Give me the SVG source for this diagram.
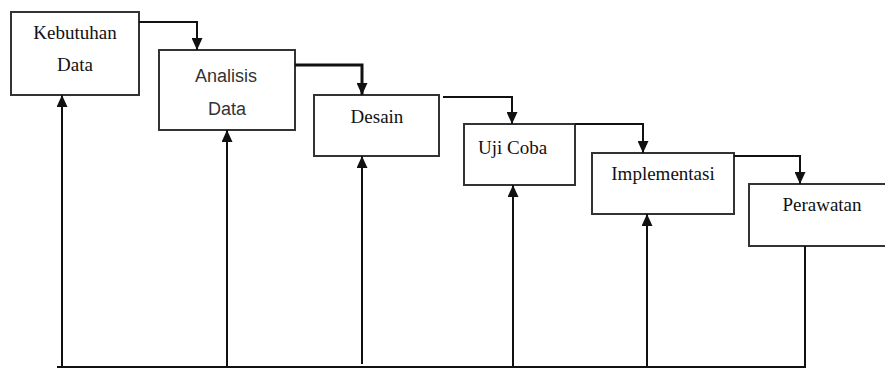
<svg xmlns="http://www.w3.org/2000/svg" width="885" height="370" viewBox="0 0 885 370">
<style>
.box{fill:#fff;stroke:#333;stroke-width:2}
.c{fill:none;stroke:#111;stroke-width:2}
.t{font-family:"Liberation Serif","Times New Roman",serif;font-size:19px;fill:#111;text-anchor:middle}
.s{font-family:"Liberation Sans",Arial,sans-serif;font-size:18px;fill:#333;text-anchor:middle}
</style>
<defs>
<marker id="ah" viewBox="0 0 12 11" refX="12" refY="5.5" markerWidth="12" markerHeight="11" markerUnits="userSpaceOnUse" orient="auto">
<path d="M0,0 L12,5.5 L0,11 z" fill="#111"/>
</marker>
</defs>
<rect width="885" height="370" fill="#fff"/>
<g id="n1"><rect class="box" x="11" y="12" width="128" height="83"/><text class="t" x="75" y="39">Kebutuhan</text><text class="t" x="75" y="71">Data</text></g>
<g id="n2"><rect class="box" x="159" y="50" width="136" height="80"/><text class="s" x="226" y="82">Analisis</text><text class="s" x="227" y="115">Data</text></g>
<g id="n3"><rect class="box" x="314" y="95" width="125" height="61"/><text class="t" x="377" y="123">Desain</text></g>
<g id="n4"><rect class="box" x="464" y="124" width="111" height="61"/><text class="t" x="478" y="154" style="text-anchor:start">Uji Coba</text></g>
<g id="n5"><rect class="box" x="592" y="153" width="142" height="61"/><text class="t" x="663" y="180">Implementasi</text></g>
<g id="n6"><rect class="box" x="749" y="184" width="150" height="62"/><text class="t" x="822" y="211">Perawatan</text></g>
<g id="connectors">
<path class="c" d="M139,22 H197 V50" marker-end="url(#ah)"/>
<path class="c" d="M295,65 H362 V95" style="stroke-width:3" marker-end="url(#ah)"/>
<path class="c" d="M443,97 H512 V124" marker-end="url(#ah)"/>
<path class="c" d="M575,124 H643 V153" marker-end="url(#ah)"/>
<path class="c" d="M734,156 H800 V184" marker-end="url(#ah)"/>
<path class="c" d="M805,246 V367 H57"/>
<path class="c" d="M62,367 V95" marker-end="url(#ah)"/>
<path class="c" d="M227,367 V130" marker-end="url(#ah)"/>
<path class="c" d="M362,364 V156" marker-end="url(#ah)"/>
<path class="c" d="M513,367 V185" marker-end="url(#ah)"/>
<path class="c" d="M647,367 V214" marker-end="url(#ah)"/>
</g>
</svg>
